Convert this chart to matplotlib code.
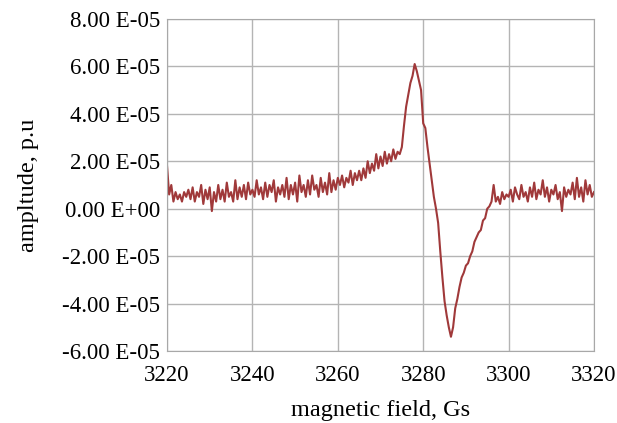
import numpy as np
import matplotlib
matplotlib.use("Agg")
import matplotlib.pyplot as plt
from matplotlib.ticker import FuncFormatter, MultipleLocator

# magnetic field, Gs (0.5 Gs step)
field = np.arange(3220, 3320.5, 0.5)

# amplitude in units of 1e-5
amp = [
    1.8, 0.6, 1.0, 0.3, 0.7, 0.4, 0.6, 0.3, 0.7, 0.5,
    0.8, 0.4, 0.9, 0.3, 0.7, 0.5, 1.0, 0.2, 0.8, 0.4,
    0.9, -0.1, 0.7, 0.3, 1.0, 0.4, 0.8, 0.3, 1.1, 0.5,
    0.7, 0.3, 1.2, 0.4, 0.9, 0.5, 1.0, 0.4, 1.1, 0.6,
    0.8, 0.5, 1.2, 0.6, 0.9, 0.4, 1.1, 0.5, 1.0, 0.7,
    1.2, 0.3, 0.9, 0.6, 1.0, 0.5, 1.3, 0.4, 1.0, 0.6,
    1.1, 0.3, 1.4, 0.7, 1.0, 0.5, 1.2, 0.6, 1.4, 0.8,
    1.0, 0.5, 1.3, 0.7, 1.1, 0.6, 1.5, 0.7, 1.2, 0.8,
    1.3, 1.0, 1.4, 0.9, 1.3, 1.1, 1.6, 1.0, 1.5, 1.2,
    1.6, 1.2, 1.7, 1.3, 2.0, 1.5, 1.9, 1.6, 2.3, 1.7,
    2.2, 1.8, 2.4, 1.9, 2.3, 2.0, 2.5, 2.1, 2.4, 2.3,
    2.6, 3.5, 4.3, 4.8, 5.3, 5.6, 6.1, 5.8, 5.4, 5.0,
    3.6, 3.4, 2.6, 1.9, 1.2, 0.5, 0.0, -0.6, -1.8, -2.9,
    -3.9, -4.5, -5.0, -5.4, -5.0, -4.2, -3.8, -3.3, -2.9, -2.7,
    -2.4, -2.3, -2.0, -1.8, -1.4, -1.2, -1.0, -0.9, -0.5, -0.4,
    0.0, 0.1, 0.3, 1.0, 0.3, 0.5, 0.2, 0.7, 0.4, 0.6,
    0.5, 0.8, 0.3, 0.9, 0.6, 0.4, 1.0, 0.5, 0.7, 0.3,
    0.9, 0.5, 1.1, 0.4, 0.8, 0.6, 1.2, 0.5, 0.9, 0.3,
    0.8, 0.6, 1.0, 0.4, 0.7, -0.1, 0.9, 0.5, 0.8, 0.6,
    1.1, 0.4, 1.3, 0.5, 0.9, 0.3, 1.2, 0.6, 1.0, 0.5,
    0.7,
]
amp = np.array(amp) * 1e-5

plt.rcParams['font.family'] = ['Liberation Serif', 'DejaVu Serif']

fig = plt.figure(figsize=(6.17, 4.23), dpi=100)
ax = fig.add_axes([0.2707, 0.1702, 0.692, 0.785])

ax.plot(field, amp, color='#a0393a', lw=1.5)

ax.set_xlim(3220, 3320)
ax.set_ylim(-6e-5, 8e-5)
ax.xaxis.set_major_locator(MultipleLocator(20))
ax.yaxis.set_major_locator(MultipleLocator(2e-5))


def fmt(v, pos):
    m = round(v * 1e5, 2)
    if m == 0:
        return "0.00 E+00"
    return f"{m:.2f} E-05"


ax.yaxis.set_major_formatter(FuncFormatter(fmt))
ax.grid(True, color='#b4b4b4', lw=1)
ax.set_axisbelow(True)
for s in ax.spines.values():
    s.set_color('#a8a8a8')
ax.tick_params(length=0, labelsize=16.5, colors='black')
ax.tick_params(axis='x', pad=10)
ax.tick_params(axis='y', pad=5)

ax.set_xlabel("magnetic field, Gs", fontsize=17.5)
ax.set_ylabel("ampltude, p.u", fontsize=17.5)
ax.xaxis.label.set_va('center')
ax.yaxis.label.set_va('center')
ax.xaxis.set_label_coords(0.5, -0.18)
ax.yaxis.set_label_coords(-0.3255, 0.5)

fig.savefig("out.png", dpi=100)
